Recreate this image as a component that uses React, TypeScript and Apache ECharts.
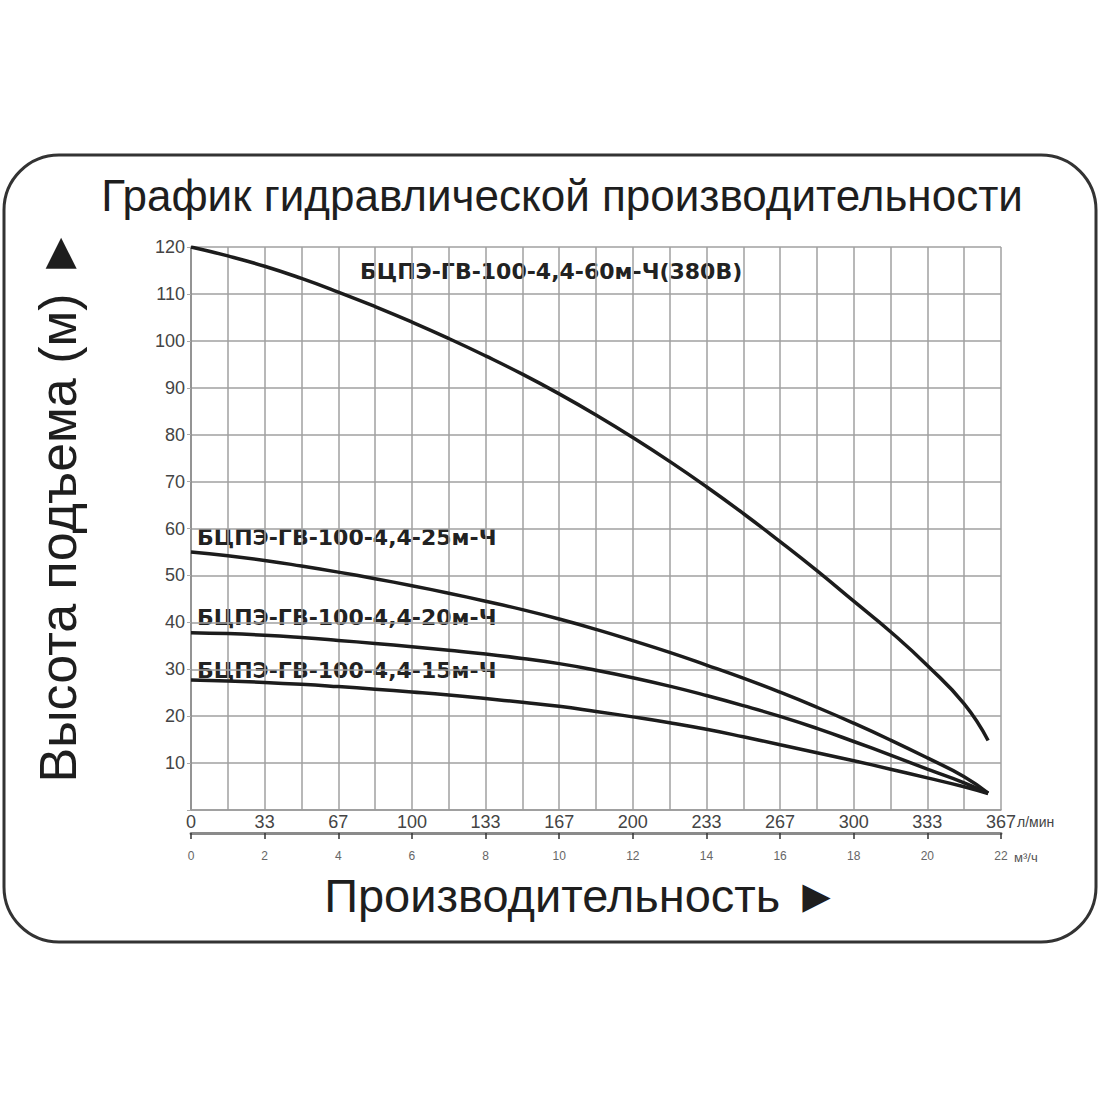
import * as echarts from 'echarts';
import React, { useEffect, useRef } from 'react';

// flow in m³/h (sample points along each curve)
const flow = [0, 1, 2, 3, 4, 5, 6, 7, 8, 9, 10, 11, 12, 13, 14, 15, 16, 17, 18, 19, 20, 21, 21.65];

// head in metres
const head60 = [120, 118.1, 115.9, 113.3, 110.4, 107.3, 104, 100.5, 96.8, 92.9, 88.7, 84.2, 79.4, 74.3, 68.9, 63.2, 57.2, 51, 44.5, 38, 30.8, 22.6, 14.8];
const head25 = [55, 54.2, 53.2, 52, 50.7, 49.3, 47.8, 46.2, 44.5, 42.7, 40.7, 38.5, 36.1, 33.6, 30.9, 28.1, 25.1, 21.9, 18.5, 14.9, 11.1, 7.1, 3.6];
const head20 = [37.8, 37.6, 37.25, 36.75, 36.15, 35.5, 34.8, 34.05, 33.25, 32.3, 31.2, 29.8, 28.2, 26.4, 24.4, 22.25, 19.95, 17.4, 14.6, 11.7, 8.7, 5.8, 3.6];
const head15 = [27.7, 27.5, 27.2, 26.8, 26.3, 25.75, 25.15, 24.5, 23.75, 22.95, 22.1, 21, 19.85, 18.6, 17.2, 15.6, 13.9, 12.2, 10.5, 8.7, 6.85, 4.95, 3.5];

const seriesNames = [
  'БЦПЭ-ГВ-100-4,4-60м-Ч(380В)',
  'БЦПЭ-ГВ-100-4,4-25м-Ч',
  'БЦПЭ-ГВ-100-4,4-20м-Ч',
  'БЦПЭ-ГВ-100-4,4-15м-Ч',
];

// tick labels, one per 2 m³/h
const lpmLabels = ['0', '33', '67', '100', '133', '167', '200', '233', '267', '300', '333', '367'];
const m3Labels = ['0', '2', '4', '6', '8', '10', '12', '14', '16', '18', '20', '22'];

const FONT = '"Liberation Sans", Arial, sans-serif';
const BOLD = '"DejaVu Sans", Verdana, sans-serif';

const App: React.FC = () => {
  const chartRef = useRef<HTMLDivElement>(null);

  useEffect(() => {
    if (!chartRef.current) return;
    const chart = echarts.init(chartRef.current, null, { renderer: 'svg' });

    const heads = [head60, head25, head20, head15];
    const lineSeries = heads.map((h, i) => ({
      name: seriesNames[i],
      type: 'line' as const,
      smooth: 0.5,
      showSymbol: false,
      silent: true,
      lineStyle: { color: '#1c1c1c', width: 3.5 },
      data: flow.map((q, j) => [q, h[j]]),
    }));

    const nameLabel = (text: string, x: number, y: number) => ({
      type: 'text',
      x,
      y,
      style: {
        text,
        font: `bold 22px ${BOLD}`,
        fill: '#222',
        textVerticalAlign: 'middle',
      },
    });

    chart.setOption({
      animation: false,
      backgroundColor: '#fff',
      grid: { left: 191, right: 99, top: 247, bottom: 290 },
      xAxis: [
        {
          type: 'value',
          min: 0,
          max: 22,
          interval: 1,
          position: 'bottom',
          axisLine: { show: true, lineStyle: { color: '#999', width: 1.5 } },
          axisTick: { show: false },
          splitLine: { show: true, lineStyle: { color: '#a0a0a0', width: 1.5 } },
          axisLabel: {
            fontFamily: FONT,
            fontSize: 18,
            color: '#444',
            margin: 3,
            formatter: (v: number) => (v % 2 === 0 ? lpmLabels[v / 2] : ''),
          },
        },
        {
          type: 'value',
          min: 0,
          max: 22,
          interval: 2,
          position: 'bottom',
          offset: 23,
          axisLine: { show: true, lineStyle: { color: '#8a8a8a', width: 3 } },
          axisTick: { show: true, length: 6, lineStyle: { color: '#333', width: 1.5 } },
          splitLine: { show: false },
          axisLabel: {
            fontFamily: FONT,
            fontSize: 12,
            color: '#666',
            margin: 17,
            formatter: (v: number) => m3Labels[v / 2],
          },
        },
      ],
      yAxis: {
        type: 'value',
        min: 0,
        max: 120,
        interval: 10,
        axisLine: { show: true, lineStyle: { color: '#888', width: 1.5 } },
        axisTick: { show: true, length: 4, lineStyle: { color: '#aaa' } },
        splitLine: { show: true, lineStyle: { color: '#a0a0a0', width: 1.5 } },
        axisLabel: {
          fontFamily: FONT,
          fontSize: 18,
          color: '#444',
          margin: 6,
          formatter: (v: number) => (v === 0 ? '' : String(v)),
        },
      },
      series: lineSeries,
      graphic: [
        {
          type: 'rect',
          shape: { x: 4, y: 155, width: 1092, height: 787, r: 55 },
          style: { fill: 'none', stroke: '#333', lineWidth: 3 },
          silent: true,
        },
        {
          type: 'text',
          x: 562,
          y: 195,
          style: {
            text: 'График гидравлической производительности',
            font: `44px ${FONT}`,
            fill: '#1e1e1e',
            textAlign: 'center',
            textVerticalAlign: 'middle',
          },
        },
        {
          type: 'text',
          x: 58,
          y: 505,
          rotation: Math.PI / 2,
          style: {
            text: 'Высота подъема (м) ►',
            font: `52px ${FONT}`,
            fill: '#1e1e1e',
            textAlign: 'center',
            textVerticalAlign: 'middle',
          },
        },
        {
          type: 'text',
          x: 582,
          y: 895,
          style: {
            text: 'Производительность ►',
            font: `47px ${FONT}`,
            fill: '#1e1e1e',
            textAlign: 'center',
            textVerticalAlign: 'middle',
          },
        },
        {
          type: 'text',
          x: 1017,
          y: 822,
          style: { text: 'л/мин', font: `14px ${FONT}`, fill: '#444', textVerticalAlign: 'middle' },
        },
        {
          type: 'text',
          x: 1014,
          y: 857,
          style: { text: 'м³/ч', font: `13px ${FONT}`, fill: '#555', textVerticalAlign: 'middle' },
        },
        nameLabel(seriesNames[0], 360, 271),
        nameLabel(seriesNames[1], 197, 537),
        nameLabel(seriesNames[2], 197, 617),
        nameLabel(seriesNames[3], 197, 670),
      ],
    });

    return () => {
      chart.dispose();
    };
  }, []);

  return (
    <div
      ref={chartRef}
      style={{ position: 'fixed', left: 0, top: 0, width: 1100, height: 1100, background: '#fff' }}
    ></div>
  );
};

export default App;
